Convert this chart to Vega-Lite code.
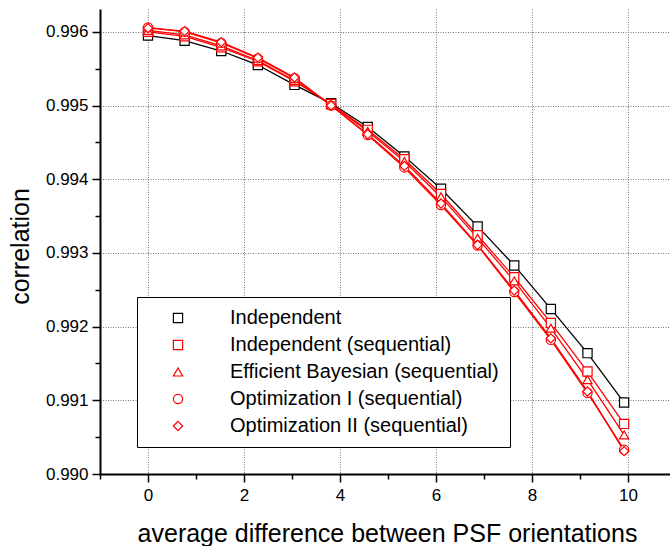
{
  "$schema": "https://vega.github.io/schema/vega-lite/v6.json",
  "width": 570,
  "height": 465,
  "autosize": "none",
  "padding": {"left": 100, "top": 9, "right": 0, "bottom": 72},
  "background": "white",
  "config": {
    "view": {"stroke": null},
    "font": "Liberation Sans",
    "axis": {"labelFont": "Liberation Sans", "titleFont": "Liberation Sans", "labelColor": "black", "titleColor": "black", "titleFontWeight": "normal", "domainColor": "black", "tickColor": "black"},
    "legend": {"title": null, "orient": "none", "legendX": 37, "legendY": 288, "strokeColor": "black", "fillColor": "white", "padding": 11, "rowPadding": 7, "labelFontSize": 20, "labelFont": "Liberation Sans", "labelColor": "black", "labelOffset": 42, "symbolOffset": 20, "labelLimit": 0, "symbolStrokeWidth": 1.2, "symbolFillColor": "white"}
  },
  "data": {"values": [
    {"x": 0, "s": "Independent", "m": "Independent", "y": 0.99595},
    {"x": 0.763, "s": "Independent", "m": "Independent", "y": 0.99588},
    {"x": 1.526, "s": "Independent", "m": "Independent", "y": 0.99574},
    {"x": 2.289, "s": "Independent", "m": "Independent", "y": 0.99555},
    {"x": 3.052, "s": "Independent", "m": "Independent", "y": 0.99528},
    {"x": 3.815, "s": "Independent", "m": "Independent", "y": 0.99503},
    {"x": 4.578, "s": "Independent", "m": "Independent", "y": 0.99471},
    {"x": 5.341, "s": "Independent", "m": "Independent", "y": 0.99431},
    {"x": 6.104, "s": "Independent", "m": "Independent", "y": 0.99387},
    {"x": 6.867, "s": "Independent", "m": "Independent", "y": 0.99336},
    {"x": 7.63, "s": "Independent", "m": "Independent", "y": 0.99283},
    {"x": 8.393, "s": "Independent", "m": "Independent", "y": 0.99224},
    {"x": 9.156, "s": "Independent", "m": "Independent", "y": 0.99164},
    {"x": 9.919, "s": "Independent", "m": "Independent", "y": 0.99097},
    {"x": 0, "s": "Independent (sequential)", "m": "Independent (sequential)", "y": 0.99600},
    {"x": 0.763, "s": "Independent (sequential)", "m": "Independent (sequential)", "y": 0.99594},
    {"x": 1.526, "s": "Independent (sequential)", "m": "Independent (sequential)", "y": 0.99579},
    {"x": 2.289, "s": "Independent (sequential)", "m": "Independent (sequential)", "y": 0.99560},
    {"x": 3.052, "s": "Independent (sequential)", "m": "Independent (sequential)", "y": 0.99533},
    {"x": 3.815, "s": "Independent (sequential)", "m": "Independent (sequential)", "y": 0.99502},
    {"x": 4.578, "s": "Independent (sequential)", "m": "Independent (sequential)", "y": 0.99467},
    {"x": 5.341, "s": "Independent (sequential)", "m": "Independent (sequential)", "y": 0.99427},
    {"x": 6.104, "s": "Independent (sequential)", "m": "Independent (sequential)", "y": 0.99380},
    {"x": 6.867, "s": "Independent (sequential)", "m": "Independent (sequential)", "y": 0.99324},
    {"x": 7.63, "s": "Independent (sequential)", "m": "Independent (sequential)", "y": 0.99267},
    {"x": 8.393, "s": "Independent (sequential)", "m": "Independent (sequential)", "y": 0.99205},
    {"x": 9.156, "s": "Independent (sequential)", "m": "Independent (sequential)", "y": 0.99139},
    {"x": 9.919, "s": "Independent (sequential)", "m": "Independent (sequential)", "y": 0.99068},
    {"x": 0, "s": "Efficient Bayesian (sequential)", "m": "Efficient Bayesian (sequential)", "y": 0.99602},
    {"x": 0.763, "s": "Efficient Bayesian (sequential)", "m": "Efficient Bayesian (sequential)", "y": 0.99596},
    {"x": 1.526, "s": "Efficient Bayesian (sequential)", "m": "Efficient Bayesian (sequential)", "y": 0.99581},
    {"x": 2.289, "s": "Efficient Bayesian (sequential)", "m": "Efficient Bayesian (sequential)", "y": 0.99561},
    {"x": 3.052, "s": "Efficient Bayesian (sequential)", "m": "Efficient Bayesian (sequential)", "y": 0.99534},
    {"x": 3.815, "s": "Efficient Bayesian (sequential)", "m": "Efficient Bayesian (sequential)", "y": 0.99501},
    {"x": 4.578, "s": "Efficient Bayesian (sequential)", "m": "Efficient Bayesian (sequential)", "y": 0.99465},
    {"x": 5.341, "s": "Efficient Bayesian (sequential)", "m": "Efficient Bayesian (sequential)", "y": 0.99424},
    {"x": 6.104, "s": "Efficient Bayesian (sequential)", "m": "Efficient Bayesian (sequential)", "y": 0.99376},
    {"x": 6.867, "s": "Efficient Bayesian (sequential)", "m": "Efficient Bayesian (sequential)", "y": 0.99320},
    {"x": 7.63, "s": "Efficient Bayesian (sequential)", "m": "Efficient Bayesian (sequential)", "y": 0.99262},
    {"x": 8.393, "s": "Efficient Bayesian (sequential)", "m": "Efficient Bayesian (sequential)", "y": 0.99198},
    {"x": 9.156, "s": "Efficient Bayesian (sequential)", "m": "Efficient Bayesian (sequential)", "y": 0.99128},
    {"x": 9.919, "s": "Efficient Bayesian (sequential)", "m": "Efficient Bayesian (sequential)", "y": 0.99053},
    {"x": 0, "s": "Optimization I (sequential)", "m": "Optimization I (sequential)", "y": 0.99606},
    {"x": 0.763, "s": "Optimization I (sequential)", "m": "Optimization I (sequential)", "y": 0.99600},
    {"x": 1.526, "s": "Optimization I (sequential)", "m": "Optimization I (sequential)", "y": 0.99585},
    {"x": 2.289, "s": "Optimization I (sequential)", "m": "Optimization I (sequential)", "y": 0.99564},
    {"x": 3.052, "s": "Optimization I (sequential)", "m": "Optimization I (sequential)", "y": 0.99537},
    {"x": 3.815, "s": "Optimization I (sequential)", "m": "Optimization I (sequential)", "y": 0.99500},
    {"x": 4.578, "s": "Optimization I (sequential)", "m": "Optimization I (sequential)", "y": 0.99460},
    {"x": 5.341, "s": "Optimization I (sequential)", "m": "Optimization I (sequential)", "y": 0.99416},
    {"x": 6.104, "s": "Optimization I (sequential)", "m": "Optimization I (sequential)", "y": 0.99365},
    {"x": 6.867, "s": "Optimization I (sequential)", "m": "Optimization I (sequential)", "y": 0.99310},
    {"x": 7.63, "s": "Optimization I (sequential)", "m": "Optimization I (sequential)", "y": 0.99247},
    {"x": 8.393, "s": "Optimization I (sequential)", "m": "Optimization I (sequential)", "y": 0.99182},
    {"x": 9.156, "s": "Optimization I (sequential)", "m": "Optimization I (sequential)", "y": 0.99110},
    {"x": 9.919, "s": "Optimization I (sequential)", "m": "Optimization I (sequential)", "y": 0.99033},
    {"x": 0, "s": "Optimization II (sequential)", "m": "Optimization II (sequential)", "y": 0.99605},
    {"x": 0.763, "s": "Optimization II (sequential)", "m": "Optimization II (sequential)", "y": 0.99601},
    {"x": 1.526, "s": "Optimization II (sequential)", "m": "Optimization II (sequential)", "y": 0.99586},
    {"x": 2.289, "s": "Optimization II (sequential)", "m": "Optimization II (sequential)", "y": 0.99565},
    {"x": 3.052, "s": "Optimization II (sequential)", "m": "Optimization II (sequential)", "y": 0.99538},
    {"x": 3.815, "s": "Optimization II (sequential)", "m": "Optimization II (sequential)", "y": 0.99500},
    {"x": 4.578, "s": "Optimization II (sequential)", "m": "Optimization II (sequential)", "y": 0.99461},
    {"x": 5.341, "s": "Optimization II (sequential)", "m": "Optimization II (sequential)", "y": 0.99418},
    {"x": 6.104, "s": "Optimization II (sequential)", "m": "Optimization II (sequential)", "y": 0.99367},
    {"x": 6.867, "s": "Optimization II (sequential)", "m": "Optimization II (sequential)", "y": 0.99311},
    {"x": 7.63, "s": "Optimization II (sequential)", "m": "Optimization II (sequential)", "y": 0.99249},
    {"x": 8.393, "s": "Optimization II (sequential)", "m": "Optimization II (sequential)", "y": 0.99184},
    {"x": 9.156, "s": "Optimization II (sequential)", "m": "Optimization II (sequential)", "y": 0.99112},
    {"x": 9.919, "s": "Optimization II (sequential)", "m": "Optimization II (sequential)", "y": 0.99031}
  ]},
  "resolve": {"axis": {"x": "independent", "y": "independent"}},
  "layer": [
    {
      "mark": {"type": "line", "strokeWidth": 1.3},
      "encoding": {
        "x": {"field": "x", "type": "quantitative", "scale": {"domain": [-1, 10.875], "nice": false, "zero": false},
          "axis": {"orient": "bottom", "values": [0, 2, 4, 6, 8, 10], "title": "average difference between PSF orientations", "titleFontSize": 25, "titleX": 287, "titleY": 67, "titleBaseline": "alphabetic", "labelFontSize": 17, "tickSize": 8, "tickWidth": 1.5, "labelPadding": 5, "domainWidth": 2, "grid": true, "gridColor": "#777", "gridDash": [1, 1.5], "gridWidth": 1}},
        "y": {"field": "y", "type": "quantitative", "scale": {"domain": [0.99, 0.99631], "nice": false, "zero": false},
          "axis": {"orient": "left", "values": [0.990, 0.991, 0.992, 0.993, 0.994, 0.995, 0.996], "format": ".3f", "title": "correlation", "titleFontSize": 25, "titleX": -71.5, "titleY": 237, "titleAngle": 270, "titleBaseline": "alphabetic", "labelFontSize": 17, "tickSize": 8, "tickWidth": 1.5, "labelPadding": 4, "domainWidth": 2, "grid": true, "gridColor": "#777", "gridDash": [1, 1.5], "gridWidth": 1}},
        "stroke": {"field": "s", "type": "nominal",
          "scale": {"domain": ["Independent", "Independent (sequential)", "Efficient Bayesian (sequential)", "Optimization I (sequential)", "Optimization II (sequential)"], "range": ["black", "red", "red", "red", "red"]}}
      }
    },
    {
      "mark": {"type": "point", "filled": false, "fill": "white", "fillOpacity": 1, "opacity": 1, "strokeWidth": 1.2},
      "encoding": {
        "x": {"field": "x", "type": "quantitative",
          "axis": {"orient": "bottom", "values": [-1, 1, 3, 5, 7, 9], "labels": false, "title": null, "tickSize": 5, "tickWidth": 1.5, "domain": false, "grid": false}},
        "y": {"field": "y", "type": "quantitative",
          "axis": {"orient": "left", "values": [0.9905, 0.9915, 0.9925, 0.9935, 0.9945, 0.9955], "labels": false, "title": null, "tickSize": 5, "tickWidth": 1.5, "domain": false, "grid": false}},
        "stroke": {"field": "s", "type": "nominal",
          "legend": {"encode": {"symbols": {"fill": {"value": "white"}}}}},
        "shape": {"field": "m", "type": "nominal", "legend": null,
          "scale": {"domain": ["Independent", "Independent (sequential)", "Efficient Bayesian (sequential)", "Optimization I (sequential)", "Optimization II (sequential)"], "range": ["square", "square", "triangle-up", "circle", "diamond"]}},
        "size": {"field": "m", "type": "nominal", "legend": null,
          "scale": {"domain": ["Independent", "Independent (sequential)", "Efficient Bayesian (sequential)", "Optimization I (sequential)", "Optimization II (sequential)"], "range": [85, 85, 170, 85, 150]}}
      }
    }
  ]
}
